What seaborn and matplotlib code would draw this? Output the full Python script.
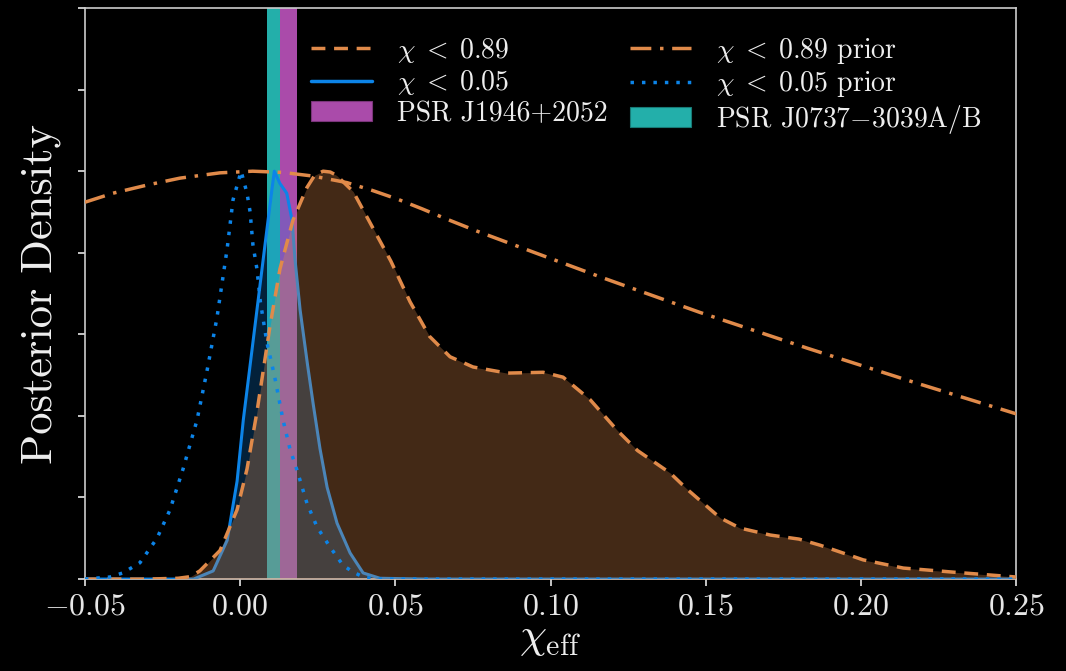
import matplotlib
matplotlib.use("Agg")
import matplotlib.pyplot as plt
import seaborn as sns
import numpy as np
from matplotlib.patches import Patch
from matplotlib.lines import Line2D

# chi_eff posterior, chi < 0.89 (normalised to peak)
post89_x = [-0.05, -0.03, -0.02, -0.016, -0.013, -0.0065, -0.001, 0.0022, 0.0054, 0.0074,
            0.0096, 0.0128, 0.017, 0.0215, 0.024, 0.0267, 0.029, 0.031, 0.0364, 0.0428,
            0.0485, 0.0547, 0.061, 0.0676, 0.075, 0.086, 0.0976, 0.104, 0.1127, 0.1214,
            0.128, 0.1385, 0.144, 0.1546, 0.161, 0.1707, 0.180, 0.1868, 0.2007, 0.2136,
            0.2297, 0.25]
post89_y = [0.0, 0.0, 0.002, 0.006, 0.02, 0.07, 0.17, 0.27, 0.41, 0.51,
            0.62, 0.76, 0.88, 0.96, 0.99, 1.0, 0.998, 0.99, 0.95, 0.86,
            0.78, 0.68, 0.595, 0.545, 0.52, 0.505, 0.507, 0.495, 0.44, 0.365,
            0.315, 0.26, 0.22, 0.15, 0.125, 0.108, 0.098, 0.083, 0.047, 0.027,
            0.017, 0.005]

# chi_eff posterior, chi < 0.05
post05_x = [-0.05, -0.015, -0.0087, -0.0042, -0.001, 0.001, 0.0028, 0.0054, 0.008, 0.0103,
            0.011, 0.0128, 0.015, 0.0167, 0.0177, 0.0193, 0.0217, 0.0235, 0.0257, 0.028,
            0.0312, 0.0354, 0.0396, 0.045, 0.06, 0.25]
post05_y = [0.0, 0.0, 0.02, 0.095, 0.24, 0.39, 0.5, 0.66, 0.82, 0.96,
            1.0, 0.97, 0.946, 0.88, 0.78, 0.66, 0.525, 0.43, 0.32, 0.225,
            0.137, 0.064, 0.015, 0.002, 0.0, 0.0]

# priors
prior89_x = [-0.05, -0.041, -0.030, -0.0194, -0.0065, 0.004, 0.0138, 0.0235, 0.0344, 0.0425,
             0.0505, 0.0585, 0.0667, 0.0763, 0.095, 0.117, 0.148, 0.1827, 0.2168, 0.25]
prior89_y = [0.924, 0.946, 0.966, 0.983, 0.996, 1.0, 0.997, 0.988, 0.972, 0.953,
             0.932, 0.908, 0.882, 0.853, 0.8, 0.738, 0.654, 0.566, 0.483, 0.405]

prior05_x = [-0.05, -0.042, -0.0378, -0.0323, -0.0268, -0.0226, -0.0184, -0.0139, -0.0107, -0.0075,
             -0.0042, -0.0023, 0.0003, 0.0022, 0.0032, 0.0041, 0.0054, 0.0065, 0.0086, 0.011,
             0.0138, 0.016, 0.0183, 0.0215, 0.0248, 0.029, 0.0331, 0.0364, 0.040, 0.045, 0.25]
prior05_y = [0.0, 0.005, 0.015, 0.04, 0.10, 0.17, 0.27, 0.39, 0.51, 0.64,
             0.81, 0.93, 1.0, 0.946, 0.90, 0.82, 0.76, 0.68, 0.58, 0.50,
             0.39, 0.32, 0.267, 0.186, 0.127, 0.078, 0.034, 0.017, 0.004, 0.0, 0.0]

# pulsar chi_eff ranges
psr1946 = [0.0128, 0.0183]
psr0737 = [0.0087, 0.0128]

orange = "#e08a4a"
blue = "#0c84e8"
magenta = "#aa4baa"
teal = "#23afaa"

sns.set_theme(style="ticks", rc={"figure.facecolor": "black", "axes.facecolor": "black",
                                 "savefig.facecolor": "black", "axes.edgecolor": "#cccccc",
                                 "xtick.color": "#e6e6e6", "ytick.color": "#e6e6e6",
                                 "text.color": "#eeeeee", "axes.labelcolor": "#eeeeee"})
plt.rcParams['font.family'] = ['cmr10', 'DejaVu Serif']
plt.rcParams['mathtext.fontset'] = 'cm'
plt.rcParams['axes.formatter.use_mathtext'] = True

fig = plt.figure(figsize=(10.66, 6.71), dpi=100)
ax = fig.add_axes([0.0797, 0.137, 0.8737, 0.851])

ax.axvspan(psr1946[0], psr1946[1], color=magenta, lw=0, zorder=1)
ax.axvspan(psr0737[0], psr0737[1], color=teal, lw=0, zorder=1)

ax.fill_between(post05_x, post05_y, color=blue, alpha=0.25, lw=0, zorder=2)
sns.lineplot(x=post05_x, y=post05_y, ax=ax, color=blue, lw=2.2, zorder=3)
ax.fill_between(post89_x, post89_y, color=orange, alpha=0.3, lw=0, zorder=4)
sns.lineplot(x=post89_x, y=post89_y, ax=ax, color=orange, lw=2.5, linestyle=(0, (4, 2.5)), zorder=5)
sns.lineplot(x=prior89_x, y=prior89_y, ax=ax, color=orange, lw=2.5, linestyle=(0, (6, 2.5, 1, 2.5)), zorder=5)
sns.lineplot(x=prior05_x, y=prior05_y, ax=ax, color=blue, lw=2.5, linestyle=(0, (1, 2.3)), zorder=5)

ax.set_xlim(-0.05, 0.25)
ax.set_ylim(0, 1.4)
ax.set_xticks(np.arange(-0.05, 0.251, 0.05))
ax.set_xticklabels(["$-0.05$", "$0.00$", "$0.05$", "$0.10$", "$0.15$", "$0.20$", "$0.25$"])
ax.set_yticks(np.arange(0, 1.41, 0.2))
ax.set_yticklabels([])
ax.tick_params(axis="both", direction="out", length=5, width=1.2, labelsize=23, pad=5)
for s in ax.spines.values():
    s.set_linewidth(1.2)
ax.set_xlabel(r"$\chi_{\rm eff}$", fontsize=31, labelpad=0)
ax.set_ylabel("Posterior Density", fontsize=32, labelpad=7)

handles = [Line2D([], [], color=orange, lw=2.5, linestyle=(0, (4, 2.5))),
           Line2D([], [], color=blue, lw=2.5),
           Patch(facecolor=magenta, edgecolor="#7a357a", lw=0.8),
           Line2D([], [], color=orange, lw=2.5, linestyle=(0, (6, 2.5, 1, 2.5))),
           Line2D([], [], color=blue, lw=2.5, linestyle=(0, (1, 2.3))),
           Patch(facecolor=teal, edgecolor="#187a76", lw=0.8)]
labels = [r"$\chi \;<\; 0.89$", r"$\chi \;<\; 0.05$", "PSR J1946+2052",
          r"$\chi \;<\; 0.89$ prior", r"$\chi \;<\; 0.05$ prior", "PSR J0737$-$3039A/B"]
ax.legend(handles, labels, ncol=2, loc="upper right", bbox_to_anchor=(0.99, 0.995),
          frameon=False, fontsize=20, handlelength=2.2, labelspacing=0.12,
          columnspacing=0.8, handletextpad=0.9)

fig.savefig("out.png", dpi=100, facecolor="black")
